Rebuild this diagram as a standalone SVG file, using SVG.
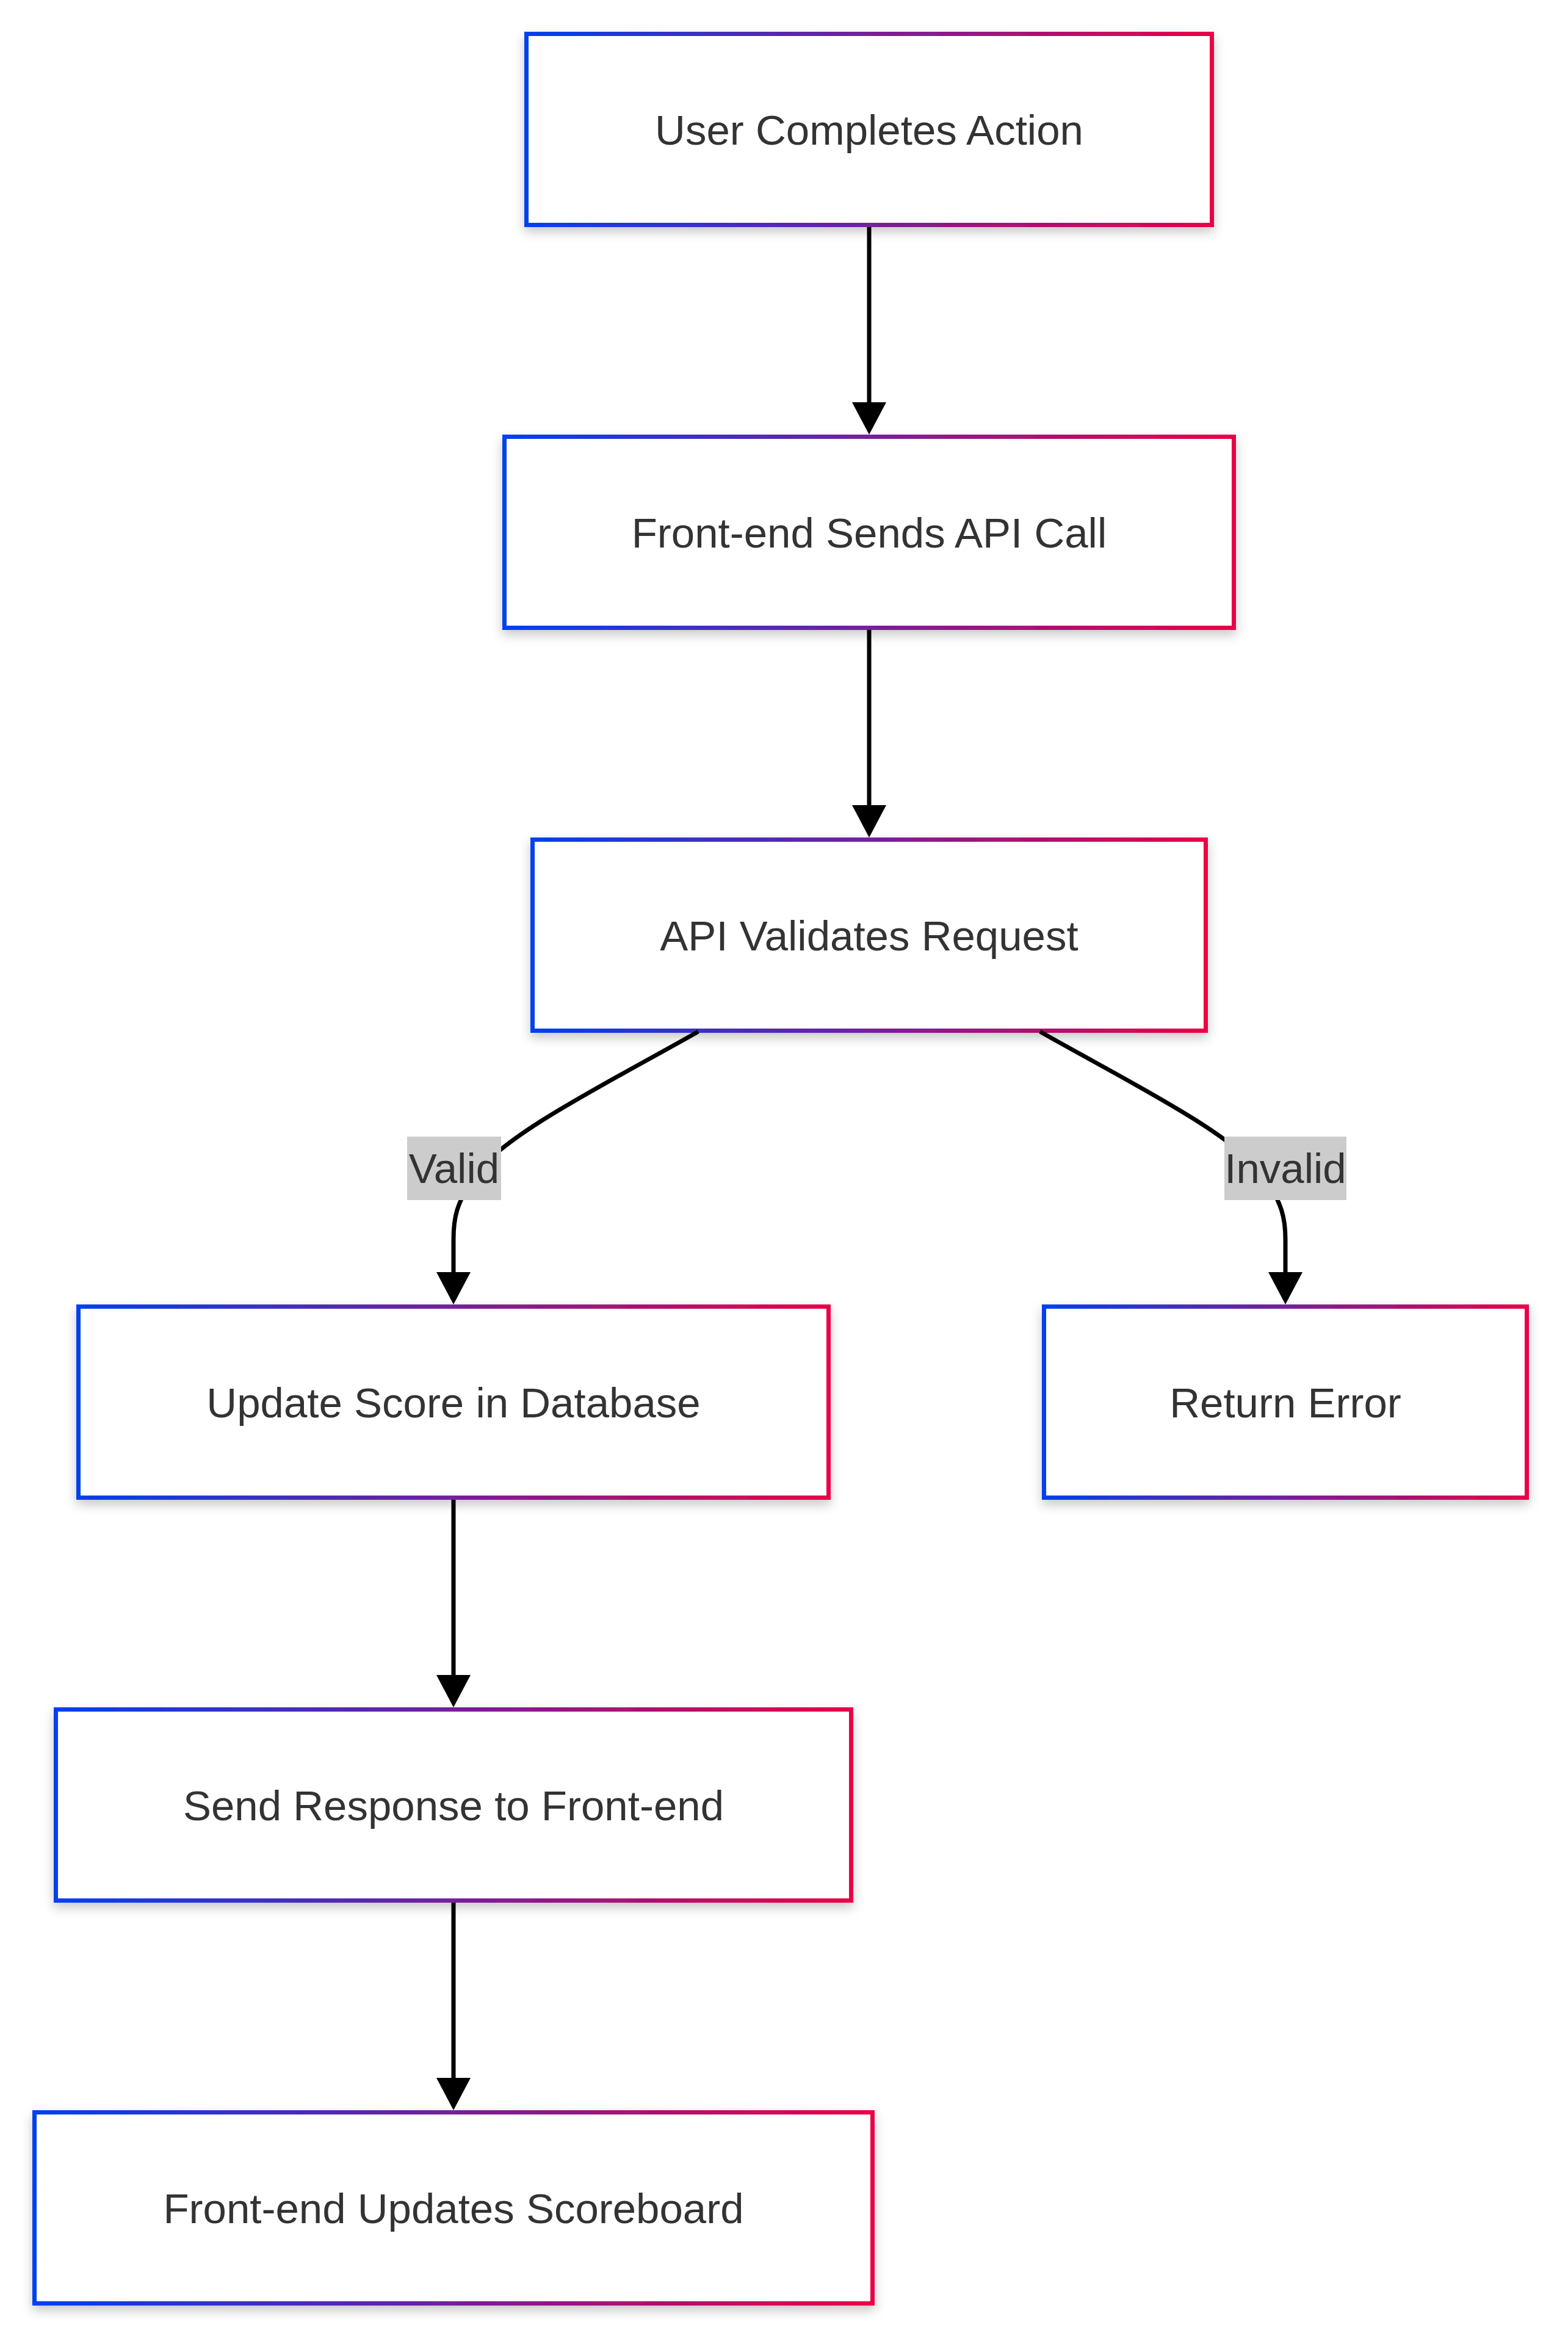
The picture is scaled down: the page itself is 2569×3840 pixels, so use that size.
<svg xmlns="http://www.w3.org/2000/svg" width="2569" height="3840" viewBox="0 0 2569 3840">
<style>
.box{fill:#ffffff;stroke:url(#grad);stroke-width:7;filter:url(#shadow);}
.lbl{font-family:"Liberation Sans",Arial,sans-serif;font-size:69px;fill:#333333;text-anchor:middle;}
.edge{fill:none;stroke:#000000;stroke-width:7;}
.elbg{fill:#cccccc;}
</style>
<defs>
<linearGradient id="grad" x1="0" y1="0" x2="1" y2="0">
<stop offset="0" stop-color="#0040f0"/>
<stop offset="1" stop-color="#ea0046"/>
</linearGradient>
<filter id="shadow" x="-10%" y="-20%" width="120%" height="150%">
<feDropShadow dx="0" dy="8" stdDeviation="9" flood-color="#000000" flood-opacity="0.22"/>
</filter>
<marker id="arrow" markerUnits="userSpaceOnUse" viewBox="0 0 53 56" markerWidth="53" markerHeight="56" refX="38" refY="28" orient="auto">
<path d="M0,0 L53,28 L0,56 Z" fill="#000000"/>
</marker>
</defs>
<g id="nodes">
<g id="node-user-completes-action">
<rect class="box" x="862.5" y="55.5" width="1123" height="313"/>
<text class="lbl" x="1424" y="237">User Completes Action</text>
</g>
<g id="node-frontend-sends-api-call">
<rect class="box" x="826.5" y="715.5" width="1195" height="313"/>
<text class="lbl" x="1424" y="897">Front-end Sends API Call</text>
</g>
<g id="node-api-validates-request">
<rect class="box" x="872.5" y="1375.5" width="1103" height="313"/>
<text class="lbl" x="1424" y="1557">API Validates Request</text>
</g>
<g id="node-update-score">
<rect class="box" x="128.5" y="2140.5" width="1229" height="313"/>
<text class="lbl" x="743" y="2322">Update Score in Database</text>
</g>
<g id="node-return-error">
<rect class="box" x="1710.5" y="2140.5" width="791" height="313"/>
<text class="lbl" x="2106" y="2322">Return Error</text>
</g>
<g id="node-send-response">
<rect class="box" x="91.5" y="2800.5" width="1303" height="313"/>
<text class="lbl" x="743" y="2982">Send Response to Front-end</text>
</g>
<g id="node-frontend-updates-scoreboard">
<rect class="box" x="56.5" y="3460.5" width="1373" height="313"/>
<text class="lbl" x="743" y="3642">Front-end Updates Scoreboard</text>
</g>
</g>
<g id="connectors">
<path class="edge" d="M1424,372 L1424,697" marker-end="url(#arrow)"/>
<path class="edge" d="M1424,1032 L1424,1357" marker-end="url(#arrow)"/>
<path class="edge" d="M1144,1690 C1000,1772 820,1860 775,1930 C748,1972 743,1995 743,2030 L743,2122" marker-end="url(#arrow)"/>
<path class="edge" d="M1704,1690 C1848,1772 2028,1860 2073,1930 C2100,1972 2106,1995 2106,2030 L2106,2122" marker-end="url(#arrow)"/>
<path class="edge" d="M743,2457 L743,2782" marker-end="url(#arrow)"/>
<path class="edge" d="M743,3117 L743,3442" marker-end="url(#arrow)"/>
<g id="label-valid">
<rect class="elbg" x="667" y="1862" width="154" height="104"/>
<text class="lbl" x="744" y="1938">Valid</text>
</g>
<g id="label-invalid">
<rect class="elbg" x="2006" y="1862" width="200" height="104"/>
<text class="lbl" x="2106" y="1938">Invalid</text>
</g>
</g>
</svg>
